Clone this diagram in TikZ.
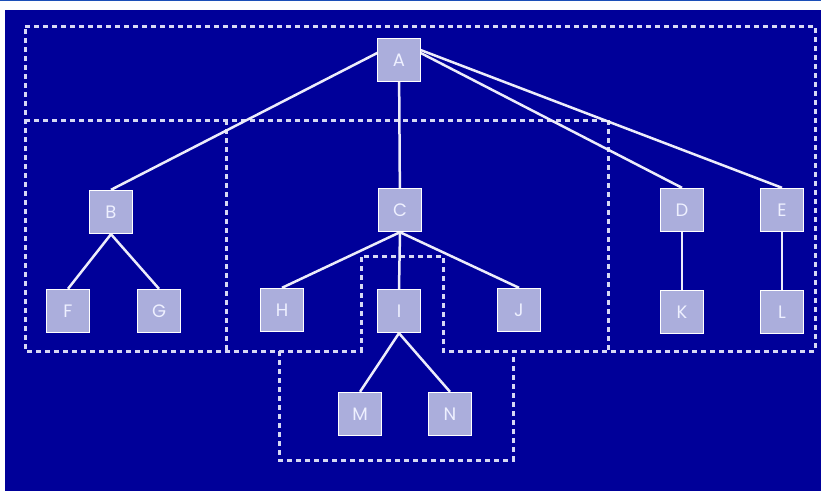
\documentclass[tikz,border=0pt]{standalone}
\usepackage{fontspec}
\usepackage{xcolor}
\usepackage{tikz}
\usetikzlibrary{backgrounds}
\newfontfamily\lblfont{Poppins}
\definecolor{navy}{HTML}{000099}
\definecolor{topline}{HTML}{1C4FB8}
\definecolor{boxfill}{HTML}{ABAEDC}
\definecolor{boxtext}{HTML}{EEF0FF}
\definecolor{zonec}{HTML}{D6D8F4}
\definecolor{edgec}{HTML}{ECECFA}
\tikzset{
  tnode/.style={draw=white,line width=1.4pt,fill=boxfill,inner sep=0pt,
    minimum size=43pt,text=boxtext,font=\lblfont\fontsize{18}{18}\selectfont},
  edge/.style={draw=edgec,line width=2.5pt},
  zone/.style={draw=zonec,line width=3pt,dash pattern=on 5pt off 4pt},
}

\begin{document}
\begin{tikzpicture}[x=1pt,y=-1pt]
  \useasboundingbox (0,0) rectangle (821,491);
  % tree
  \node[tnode] (A) at (399,60) {A};
  \node[tnode] (B) at (111,212) {B};
  \node[tnode] (C) at (400,210) {C};
  \node[tnode] (D) at (682,210) {D};
  \node[tnode] (E) at (782,210) {E};
  \node[tnode] (F) at (68,311) {F};
  \node[tnode] (G) at (159,311) {G};
  \node[tnode] (H) at (282,310) {H};
  \node[tnode] (I) at (399,311) {I};
  \node[tnode] (J) at (519,310) {J};
  \node[tnode] (K) at (682,312) {K};
  \node[tnode] (L) at (782,312) {L};
  \node[tnode] (M) at (360,414) {M};
  \node[tnode] (N) at (450,414) {N};
  \coordinate (Atop) at ([yshift=-4pt]A.north);
  \begin{scope}[on background layer]
    \fill[white] (0,0) rectangle (821,491);
    \fill[topline] (0,0) rectangle (821,1.2);
    \fill[navy] (5,10) rectangle (821,491);
    % dashed groups
    \draw[zone] (25,26) -- (815,26) -- (815,351) -- (443,351) -- (443,256)
      -- (361,256) -- (361,351) -- (25,351) -- cycle;
    \draw[zone] (279,351) -- (279,460) -- (513,460) -- (513,351);
    \draw[zone] (25,120) -- (608,120);
    \draw[zone] (226,120) -- (226,351);
    \draw[zone] (608,120) -- (608,351);
    % connectors
    \foreach \c in {B,D,E} \draw[edge] (Atop) -- (\c.north);
    \draw[edge] (A) -- (C);
    \foreach \c in {F,G} \draw[edge] (B.south) -- (\c.north);
    \foreach \c in {H,I,J} \draw[edge] (C.south) -- (\c.north);
    \foreach \c in {M,N} \draw[edge] (I.south) -- (\c.north);
    \draw[edge] (D) -- (K);
    \draw[edge] (E) -- (L);
  \end{scope}
\end{tikzpicture}
\end{document}
